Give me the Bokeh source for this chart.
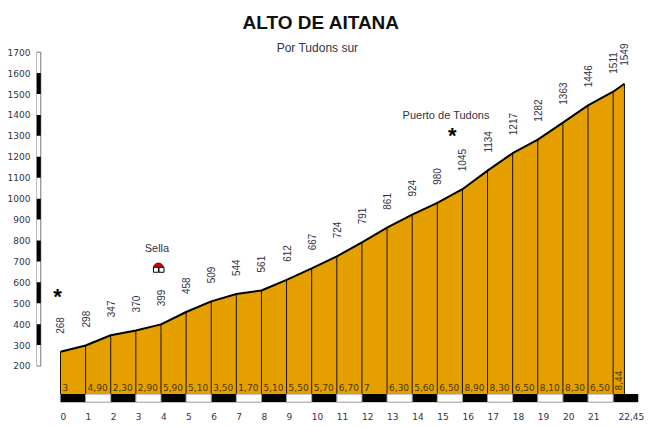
from bokeh.plotting import figure
from bokeh.embed import file_html
from bokeh.resources import INLINE
from bokeh.core.properties import value
from bokeh.models import ColumnDataSource, FixedTicker
from math import pi

# Profile data
km = list(range(0, 23)) + [22.45]
elevation = [268, 298, 347, 370, 399, 458, 509, 544, 561, 612, 667, 724, 791,
             861, 924, 980, 1045, 1134, 1217, 1282, 1363, 1446, 1511, 1549]
slopes = ["3", "4,90", "2,30", "2,90", "5,90", "5,10", "3,50", "1,70", "5,10",
          "5,50", "5,70", "6,70", "7", "6,30", "5,60", "6,50", "8,90", "8,30",
          "6,50", "8,10", "8,30", "6,50"]
last_slope = "8,44"
km_ticks = list(range(0, 22))
km_labels = [str(i) for i in km_ticks]
y_ticks = list(range(200, 1800, 100))
y_black_starts = list(range(300, 1600, 200))
strip_black = list(range(0, 23, 2))
strip_white = list(range(1, 22, 2))

BASE = 66
STRIP_BOTTOM = 27
SLOPE_Y = 98
KM_LABEL_Y = -41
STRIP_LEFT = -0.955
STRIP_RIGHT = -0.784

ORANGE = "#E5A000"
TICK_FONT = value("DejaVu Sans")
LABEL_FONT = value("Liberation Sans")
TEXT = "#333344"

p = figure(
    width=650,
    height=427,
    x_range=(-0.955, 23.487),
    y_range=(-94, 1775),
    title="ALTO DE AITANA",
    toolbar_location=None,
    tools="",
    output_backend="svg",
    min_border_left=36,
    min_border_right=0,
    min_border_top=36,
    min_border_bottom=0,
)
p.title.align = "left"
p.title.offset = 206
p.title.standoff = 8
p.title.text_font = "Liberation Sans"
p.title.text_font_size = "19px"
p.title.text_font_style = "bold"
p.title.text_color = "#111111"

p.outline_line_color = None
p.xgrid.visible = False
p.ygrid.visible = False
p.xaxis.visible = False

p.yaxis.ticker = FixedTicker(ticks=y_ticks)
p.yaxis.axis_line_color = None
p.yaxis.major_tick_line_color = None
p.yaxis.minor_tick_line_color = None
p.yaxis.major_tick_out = 0
p.yaxis.major_label_standoff = 6
p.yaxis.major_label_text_font = "DejaVu Sans"
p.yaxis.major_label_text_font_size = "9px"
p.yaxis.major_label_text_color = TEXT

# Filled profile
source = ColumnDataSource(data=dict(
    km=km,
    elevation=elevation,
    base=[BASE] * len(km),
    label=[str(e) for e in elevation],
))
p.varea(x="km", y1="base", y2="elevation", fill_color=ORANGE, source=source)
p.segment(x0="km", y0="base", x1="km", y1="elevation", line_color="#1a1200",
          line_width=1, source=source)
p.line(x="km", y="elevation", line_color="black", line_width=2, source=source)

# Elevation labels above each point
p.text(x="km", y="elevation", text="label", angle=pi / 2,
       text_align="left", text_baseline="middle", y_offset=-18,
       text_font=LABEL_FONT, text_font_size="10px", text_color=TEXT, source=source)

# Slopes
p.text(x=km[:22], y=[SLOPE_Y] * 22, text=slopes, x_offset=2, text_baseline="middle",
       text_font=TICK_FONT, text_font_size="9px", text_color="#4a3500")
p.text(x=[22.22], y=[83], text=[last_slope], angle=pi / 2, text_baseline="middle",
       text_font=TICK_FONT, text_font_size="9px", text_color="#4a3500")

# Km strip
p.quad(left=strip_black, right=[k + 1 for k in strip_black], bottom=STRIP_BOTTOM, top=BASE,
       fill_color="black", line_color=None)
p.quad(left=strip_white, right=[k + 1 for k in strip_white], bottom=STRIP_BOTTOM, top=BASE,
       fill_color="white", line_color="#999999", line_width=1)
p.text(x=km_ticks, y=[KM_LABEL_Y] * 22, text=km_labels,
       text_baseline="middle", text_font=TICK_FONT, text_font_size="9px", text_color=TEXT)
p.text(x=[22.45], y=[KM_LABEL_Y], text=["22,45"], x_offset=-6, text_baseline="middle",
       text_font=TICK_FONT, text_font_size="9px", text_color=TEXT)

# Altitude strip
p.quad(left=STRIP_LEFT, right=STRIP_RIGHT, bottom=200, top=1700,
       fill_color="white", line_color="#777777", line_width=1)
p.quad(left=STRIP_LEFT, right=STRIP_RIGHT, bottom=y_black_starts,
       top=[y + 100 for y in y_black_starts], fill_color="black", line_color=None)

# Subtitle and points of interest
p.text(x=[10.23], y=[1718], text=["Por Tudons sur"], text_align="center", text_baseline="middle",
       text_font=LABEL_FONT, text_font_size="12px", text_color=TEXT)
p.text(x=[3.84], y=[762], text=["Sella"], text_align="center", text_baseline="middle",
       text_font=LABEL_FONT, text_font_size="11px", text_color=TEXT)
p.text(x=[15.35], y=[1402], text=["Puerto de Tudons"], text_align="center", text_baseline="middle",
       text_font=LABEL_FONT, text_font_size="11px", text_color=TEXT)
p.text(x=[-0.12, 15.6], y=[542, 1312], text=["*", "*"], text_align="center", text_baseline="middle",
       y_offset=2, text_font=LABEL_FONT, text_font_size="22px", text_font_style="bold",
       text_color="black")

# Sella icon
p.wedge(x=[3.9], y=[668], radius=5, radius_units="screen", start_angle=0, end_angle=pi,
        fill_color="#DD0000", line_color="#222222", line_width=1)
p.scatter(x=[3.8, 4.02], y=[660, 660], marker="square", size=5, fill_color="white",
          line_color="black", line_width=1)

open("out.html", "w").write(file_html(p, INLINE))
